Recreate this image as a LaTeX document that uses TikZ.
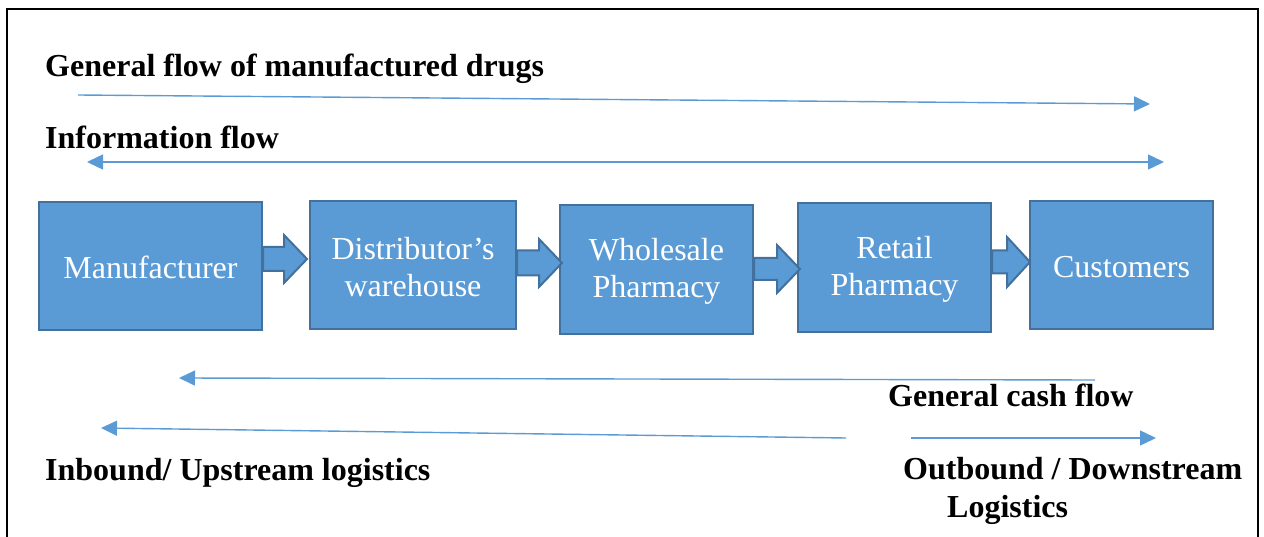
\documentclass[tikz,border=0pt]{standalone}
\usepackage{fontspec}
\setmainfont{Liberation Serif}
\usetikzlibrary{arrows.meta,calc}
\definecolor{boxfill}{HTML}{5B9BD5}
\definecolor{boxline}{HTML}{41719C}
\definecolor{flowline}{HTML}{5B9BD5}
\newcommand\mkblockarrow[6]{%
  \draw[blk] let \p1=(#1.east), \p2=(#2.west) in
    (\x1,{-(#3-#4)*1pt}) -- ({\x2+(#6-23)*1pt},{-(#3-#4)*1pt})
    -- ({\x2+(#6-23)*1pt},{-(#3-#5)*1pt}) -- ({\x2+(#6)*1pt},{-(#3)*1pt})
    -- ({\x2+(#6-23)*1pt},{-(#3+#5)*1pt}) -- ({\x2+(#6-23)*1pt},{-(#3+#4)*1pt})
    -- (\x1,{-(#3+#4)*1pt}) -- cycle;}
\newcommand\topstrut{\rule{0pt}{26pt}}
\begin{document}
\begin{tikzpicture}[x=1pt,y=-1pt,
  stage/.style={draw=boxline,line width=2pt,fill=boxfill,text=white,
    font=\fontsize{32}{37}\selectfont,align=center,inner sep=0pt},
  oneline/.style={text height=26pt},
  lbl/.style={font=\bfseries\fontsize{32}{37}\selectfont,inner sep=0pt,anchor=base west},
  flow/.style={draw=flowline,line width=1.4pt,-{Triangle[length=16pt,width=15pt]}},
  dflow/.style={draw=flowline,line width=1.4pt,{Triangle[length=16pt,width=15pt]}-{Triangle[length=16pt,width=15pt]}},
  blk/.style={draw=boxline,line width=2pt,fill=boxfill,line join=miter}]
\useasboundingbox (0,0) rectangle (1264,537);
\draw[line width=2.5pt] (7,545) -- (7,9) -- (1258,9) -- (1258,545);

% stages
\node[stage,oneline,minimum width=223pt,minimum height=128pt] (m) at (150.5,266) {Manufacturer};
\node[stage,minimum width=206pt,minimum height=128pt] (d) at (413,265) {\topstrut Distributor’s\\warehouse};
\node[stage,minimum width=193pt,minimum height=129pt] (w) at (656.5,269.5) {\topstrut Wholesale\\Pharmacy};
\node[stage,minimum width=193pt,minimum height=129pt] (r) at (894.5,267.5) {\topstrut Retail\\Pharmacy};
\node[stage,oneline,minimum width=183pt,minimum height=128pt] (c) at (1121.5,265) {Customers};

% block arrows: from, to, centre y, shaft half, head half, tip offset
\mkblockarrow{m}{d}{259}{12}{24}{-2}
\mkblockarrow{d}{w}{263}{12.5}{24}{3}
\mkblockarrow{w}{r}{269}{11}{24}{3}
\mkblockarrow{r}{c}{262}{11.5}{25}{1}

% labels
\node[lbl] (t1) at (45,77) {General flow of manufactured drugs};
\node[lbl] (t2) at (45,149) {Information flow};
\node[lbl] (t3) at (888,406) {General cash flow};
\node[lbl] (t4) at (903,479) {Outbound / Downstream};
\node[lbl] (t5) at (947,517) {Logistics};
\node[lbl] (t6) at (45,480) {Inbound/ Upstream logistics};

% flow lines
\coordinate (g1) at (78,95);   \coordinate (g2) at (1150,104);
\coordinate (i1) at (87,162);  \coordinate (i2) at (1164,162);
\coordinate (k1) at (1095,380); \coordinate (k2) at (179,378);
\coordinate (u1) at (846,438); \coordinate (u2) at (101,428);
\coordinate (o1) at (911,438); \coordinate (o2) at (1156,438);
\draw[flow] (g1) -- (g2);
\draw[dflow] (i1) -- (i2);
\draw[flow] (k1) -- (k2);
\draw[flow] (u1) -- (u2);
\draw[flow] (o1) -- (o2);
\end{tikzpicture}
\end{document}
